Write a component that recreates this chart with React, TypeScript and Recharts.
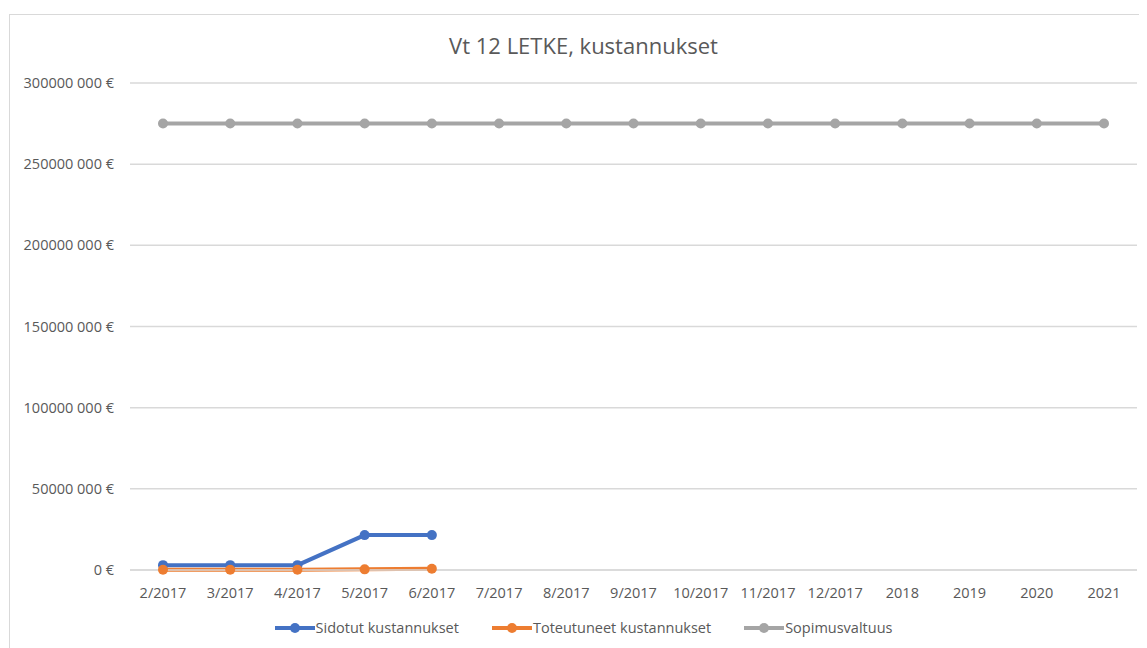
import React from 'react';
import { LineChart, Line, XAxis, YAxis, CartesianGrid } from 'recharts';

const categories = ['2/2017', '3/2017', '4/2017', '5/2017', '6/2017', '7/2017', '8/2017', '9/2017', '10/2017', '11/2017', '12/2017', '2018', '2019', '2020', '2021'];
const sidotut: (number | null)[] = [3000000, 3000000, 3000000, 21500000, 21500000, null, null, null, null, null, null, null, null, null, null];
const toteutuneet: (number | null)[] = [200000, 200000, 200000, 400000, 800000, null, null, null, null, null, null, null, null, null, null];
const sopimusvaltuus: number[] = [275000000, 275000000, 275000000, 275000000, 275000000, 275000000, 275000000, 275000000, 275000000, 275000000, 275000000, 275000000, 275000000, 275000000, 275000000];
const yTicks = [0, 50000000, 100000000, 150000000, 200000000, 250000000, 300000000];
const title = 'Vt 12 LETKE, kustannukset';

const seriesInfo = [
  { key: 'sidotut', name: 'Sidotut kustannukset', color: '#4472C4' },
  { key: 'toteutuneet', name: 'Toteutuneet kustannukset', color: '#ED7D31' },
  { key: 'sopimusvaltuus', name: 'Sopimusvaltuus', color: '#A5A5A5' },
];

const data = categories.map((c, i) => ({
  cat: c,
  sidotut: sidotut[i],
  toteutuneet: toteutuneet[i],
  sopimusvaltuus: sopimusvaltuus[i],
}));

const FONT = '"Open Sans", "Noto Sans", sans-serif';
const TEXT = '#595959';

const fmt = (v: number) => {
  if (v === 0) return '0 €';
  const s = String(v);
  const last = s.slice(-3);
  const rest = s.slice(0, -3);
  return `${rest} ${last} €`;
};

const LegendContent = () => (
  <div style={{ display: 'flex', justifyContent: 'center', gap: 33, fontFamily: FONT, fontSize: 14.5, color: TEXT }}>
    {seriesInfo.map((s) => (
      <div key={s.key} style={{ display: 'flex', alignItems: 'center' }}>
        <svg width={40} height={12} style={{ marginRight: 1 }}>
          <line x1={0} y1={6} x2={40} y2={6} stroke={s.color} strokeWidth={4} />
          <circle cx={20} cy={6} r={5} fill={s.color} />
        </svg>
        <span>{s.name}</span>
      </div>
    ))}
  </div>
);

export default function App() {
  return (
    <div style={{ marginTop: 6, marginLeft: 1, width: 1150, height: 640, border: '1px solid #d9d9d9', position: 'relative', background: '#fff' }}>
      <div style={{ position: 'absolute', top: 15, left: 0, width: 1147, textAlign: 'center', fontFamily: FONT, fontSize: 22, color: TEXT }}>
        {title}
      </div>
      <LineChart width={1137} height={633} data={data} margin={{ top: 68, right: 10, left: 0, bottom: 0 }}>
        <CartesianGrid vertical={false} stroke="#d9d9d9" strokeWidth={1.5} />
        <XAxis
          dataKey="cat"
          axisLine={{ stroke: '#d9d9d9', strokeWidth: 1.5 }}
          tickLine={false}
          tick={{ fill: TEXT, fontSize: 14.5, fontFamily: FONT }}
          tickMargin={12}
          height={78}
          interval={0}
          padding={{ left: 33, right: 33 }}
        />
        <YAxis
          width={120}
          domain={[0, 300000000]}
          ticks={yTicks}
          axisLine={false}
          tickLine={false}
          tickSize={0}
          tickMargin={16}
          tickFormatter={fmt}
          tick={{ fill: TEXT, fontSize: 14.5, fontFamily: FONT }}
        />
        {seriesInfo.map((s) => (
          <Line
            key={s.key}
            dataKey={s.key}
            name={s.name}
            stroke={s.color}
            strokeWidth={4}
            dot={{ r: 5, fill: s.color, stroke: s.color, strokeWidth: 0 }}
            isAnimationActive={false}
            connectNulls={false}
          />
        ))}
      </LineChart>
      <div style={{ position: 'absolute', top: 603, left: 0, width: 1147 }}>
        <LegendContent />
      </div>
    </div>
  );
}
